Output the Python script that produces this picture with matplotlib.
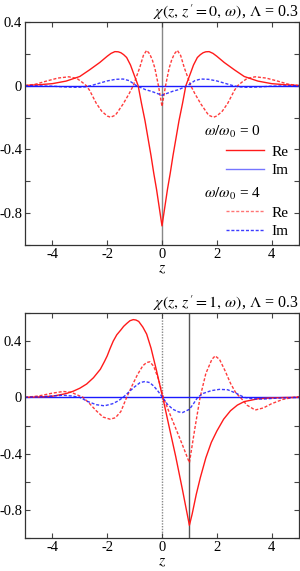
import numpy as np
import matplotlib
matplotlib.use("Agg")
import matplotlib.pyplot as plt
from matplotlib.ticker import MultipleLocator, FuncFormatter

plt.rcParams['font.family'] = 'serif'
plt.rcParams['font.serif'] = ['Liberation Serif', 'DejaVu Serif']
plt.rcParams['mathtext.fontset'] = 'stix'
plt.rcParams['axes.unicode_minus'] = False
plt.rcParams['font.size'] = 10

# ---- panel 1 : z' = 0 ----
z_t_re0 = [-5, -4.5, -4, -3.5, -3, -2.64, -2.27, -2, -1.86, -1.72, -1.6, -1.5, -1.4, -1.29, -1.15,
           -1.05, -0.87, -0.75, -0.62, -0.5, -0.4, -0.3, -0.2, -0.1, 0,
           0.1, 0.2, 0.3, 0.4, 0.5, 0.62, 0.75, 0.87, 1.05, 1.15, 1.29, 1.4, 1.5, 1.6, 1.72,
           1.86, 2, 2.27, 2.64, 3, 3.5, 4, 4.5, 5]
t_re0 = [0.002, 0.006, 0.013, 0.029, 0.058, 0.1, 0.146, 0.185, 0.203, 0.214, 0.213, 0.207, 0.195, 0.177, 0.13,
         0.083, 0.0, -0.11, -0.22, -0.34, -0.44, -0.55, -0.65, -0.765, -0.88,
         -0.765, -0.65, -0.55, -0.44, -0.34, -0.22, -0.11, 0.0, 0.083, 0.13, 0.177, 0.195, 0.207, 0.213, 0.214,
         0.203, 0.185, 0.146, 0.1, 0.058, 0.029, 0.013, 0.006, 0.002]

z_t_im0 = [-5, 5]
t_im0 = [0, 0]

z_t_re4 = [-5, -4.6, -4.2, -3.8, -3.4, -3.1, -2.9, -2.76, -2.64, -2.4, -2.2, -2.0, -1.88, -1.7,
           -1.42, -1.2, -1.05, -0.81, -0.68, -0.56, -0.45, -0.35, -0.26, -0.13, -0.06, 0,
           0.06, 0.13, 0.26, 0.35, 0.45, 0.56, 0.68, 0.81, 1.05, 1.2, 1.42, 1.7, 1.88, 2.0,
           2.2, 2.4, 2.64, 2.76, 2.9, 3.1, 3.4, 3.8, 4.2, 4.6, 5]
t_re4 = [0.0, 0.01, 0.03, 0.048, 0.056, 0.045, 0.02, 0.0, -0.03, -0.11, -0.16, -0.19, -0.198, -0.185,
         -0.115, -0.05, 0.0, 0.115, 0.19, 0.222, 0.2, 0.16, 0.11, 0.0, -0.07, -0.13,
         -0.07, 0.0, 0.11, 0.16, 0.2, 0.222, 0.19, 0.115, 0.0, -0.05, -0.115, -0.185, -0.198, -0.19,
         -0.16, -0.11, -0.03, 0.0, 0.02, 0.045, 0.056, 0.048, 0.03, 0.01, 0.0]

z_t_im4 = [-5, -4.5, -4, -3.5, -3.1, -2.8, -2.6, -2.3, -2.0, -1.7, -1.42, -1.2, -0.93, -0.6,
           -0.39, -0.2, 0, 0.2, 0.39, 0.6, 0.93, 1.2, 1.42, 1.7, 2.0, 2.3, 2.6, 2.8, 3.1,
           3.5, 4, 4.5, 5]
t_im4 = [0.0, -0.001, -0.003, -0.008, -0.01, -0.007, 0.0, 0.015, 0.03, 0.04, 0.042, 0.032, 0.0, -0.025,
         -0.035, -0.047, -0.06, -0.047, -0.035, -0.025, 0.0, 0.032, 0.042, 0.04, 0.03, 0.015, 0.0, -0.007, -0.01,
         -0.008, -0.003, -0.001, 0.0]

# ---- panel 2 : z' = 1 ----
z_b_re0 = [-5, -4.5, -4, -3.5, -3.25, -3, -2.75, -2.5, -2.25, -2.1, -2, -1.9, -1.78, -1.65, -1.5, -1.4,
           -1.29, -1.17, -1.05, -0.95, -0.85, -0.7, -0.56, -0.4, -0.2, 0, 0.05, 0.25, 0.5, 0.75,
           1.0, 1.1, 1.25, 1.4, 1.6, 1.8, 2.0, 2.25, 2.5, 2.75, 3.0, 3.5, 4, 4.5, 5]
b_re0 = [0.0, 0.003, 0.008, 0.027, 0.043, 0.065, 0.095, 0.14, 0.2, 0.255, 0.295, 0.345, 0.4, 0.445, 0.48, 0.505,
         0.525, 0.545, 0.553, 0.55, 0.54, 0.5, 0.45, 0.35, 0.19, 0.02, -0.02, -0.2, -0.42, -0.66,
         -0.91, -0.83, -0.69, -0.57, -0.43, -0.32, -0.24, -0.155, -0.095, -0.055, -0.03, -0.01, -0.004, -0.001, 0.0]

z_b_im0 = [-5, 5]
b_im0 = [0, 0]

z_b_re4 = [-5, -4.5, -4, -3.6, -3.3, -3.1, -2.88, -2.64, -2.4, -2.15, -1.9, -1.7, -1.5, -1.29,
           -1.1, -0.9, -0.7, -0.56, -0.44, -0.3, -0.13, 0.05, 0.25, 0.5, 0.75, 1.0, 1.2, 1.39, 1.6,
           1.82, 1.94, 2.1, 2.3, 2.5, 2.7, 2.86, 3.1, 3.4, 3.7, 4.0, 4.4, 4.8, 5]
b_re4 = [0.0, 0.01, 0.03, 0.042, 0.035, 0.018, 0.0, -0.045, -0.095, -0.14, -0.155, -0.145, -0.1, 0.0,
         0.08, 0.16, 0.225, 0.248, 0.253, 0.22, 0.13, 0.0, -0.1, -0.22, -0.34, -0.465, -0.22, 0.0, 0.17,
         0.27, 0.295, 0.27, 0.19, 0.1, 0.03, 0.0, -0.055, -0.09, -0.075, -0.045, -0.015, 0.0, 0.005]

z_b_im4 = [-5, -4.5, -4, -3.6, -3.3, -3.0, -2.7, -2.4, -2.1, -1.8, -1.6, -1.42, -1.2, -1.0, -0.8,
           -0.62, -0.45, -0.3, -0.15, 0.02, 0.2, 0.4, 0.6, 0.75, 1.0, 1.15, 1.3, 1.5, 1.8, 2.1,
           2.4, 2.7, 3.0, 3.3, 3.7, 4.2, 5]
b_im4 = [0.0, 0.003, 0.01, 0.015, 0.01, 0.0, -0.03, -0.052, -0.06, -0.045, -0.025, 0.0, 0.04, 0.075, 0.105,
         0.113, 0.105, 0.08, 0.045, 0.0, -0.05, -0.085, -0.103, -0.108, -0.085, -0.045, 0.0, 0.028, 0.048, 0.057,
         0.054, 0.03, 0.0, -0.01, -0.012, -0.005, 0.0]

xticks = [-4, -2, 0, 2, 4]
titles = [r"$\chi(z,\, z^{\prime} = 0,\, \omega)$, $\Lambda$ = 0.3",
          r"$\chi(z,\, z^{\prime} = 1,\, \omega)$, $\Lambda$ = 0.3"]

RED = '#ff1a1a'
BLUE = '#1a1aff'
dash = (0, (2.2, 1.3))

W, H = 300, 571
fig = plt.figure(figsize=(W / 100, H / 100), dpi=100)
ax1 = fig.add_axes([25 / W, 1 - 245 / H, 274 / W, 223 / H])
ax2 = fig.add_axes([25 / W, 1 - 538 / H, 274 / W, 225 / H])

fmt = FuncFormatter(lambda v, p: '%g' % (round(v, 2) + 0.0))


def style(ax, ylim, title):
    ax.set_xlim(-5, 5)
    ax.set_ylim(*ylim)
    ax.set_xticks(xticks)
    ax.yaxis.set_major_locator(MultipleLocator(0.4))
    ax.yaxis.set_minor_locator(MultipleLocator(0.2))
    ax.xaxis.set_major_formatter(fmt)
    ax.yaxis.set_major_formatter(fmt)
    ax.tick_params(which='both', direction='in', top=True, right=True, length=3.5,
                   width=0.8, color='#444444', labelsize=10.5)
    ax.tick_params(axis='x', pad=2.5)
    ax.tick_params(axis='y', pad=2)
    for s in ax.spines.values():
        s.set_color('#333333')
        s.set_linewidth(0.9)
    ax.set_xlabel(r'$z$', fontsize=11.5, labelpad=-1)
    ax.set_title(title, loc='right', fontsize=11.5, pad=3)


# top panel
ax1.axvline(0, color='#888888', lw=1.0, zorder=1)
ax1.plot(z_t_im0, t_im0, color=BLUE, lw=1.0)
ax1.plot(z_t_re0, t_re0, color=RED, lw=1.0)
ax1.plot(z_t_re4, t_re4, color=RED, lw=1.0, ls=dash, alpha=0.85)
ax1.plot(z_t_im4, t_im4, color=BLUE, lw=1.0, ls=dash, alpha=0.85)
style(ax1, (-1.0, 0.4), titles[0])

# bottom panel
ax2.axvline(0, color='#888888', lw=1.0, ls=(0, (1, 1)), zorder=1)
ax2.axvline(1, color='#555555', lw=1.0, zorder=1)
ax2.plot(z_b_im0, b_im0, color=BLUE, lw=1.0)
ax2.plot(z_b_re0, b_re0, color=RED, lw=1.0)
ax2.plot(z_b_re4, b_re4, color=RED, lw=1.0, ls=dash, alpha=0.85)
ax2.plot(z_b_im4, b_im4, color=BLUE, lw=1.0, ls=dash, alpha=0.85)
style(ax2, (-1.0, 0.6), titles[1])

# legend (top panel only)
h_re0, = ax1.plot([], [], color=RED, lw=1.0)
h_im0, = ax1.plot([], [], color=BLUE, lw=1.0, alpha=0.6)
h_re4, = ax1.plot([], [], color=RED, lw=1.0, ls=dash, alpha=0.6)
h_im4, = ax1.plot([], [], color=BLUE, lw=1.0, ls=dash, alpha=0.85)
kw = dict(frameon=False, loc='upper left', fontsize=11, handlelength=2.5,
          handletextpad=0.45, labelspacing=0.3, borderpad=0, borderaxespad=0)
leg1 = ax1.legend([h_re0, h_im0], ['Re', 'Im'], bbox_to_anchor=(226 / W, 1 - 145 / H),
                  bbox_transform=fig.transFigure, **kw)
ax1.add_artist(leg1)
ax1.legend([h_re4, h_im4], ['Re', 'Im'], bbox_to_anchor=(226 / W, 1 - 206 / H),
           bbox_transform=fig.transFigure, **kw)
fig.text(204 / W, 1 - 132 / H, r'$\omega/\omega_0$ = 0', fontsize=11, va='center')
fig.text(204 / W, 1 - 194 / H, r'$\omega/\omega_0$ = 4', fontsize=11, va='center')

fig.savefig('out.png', dpi=100)
